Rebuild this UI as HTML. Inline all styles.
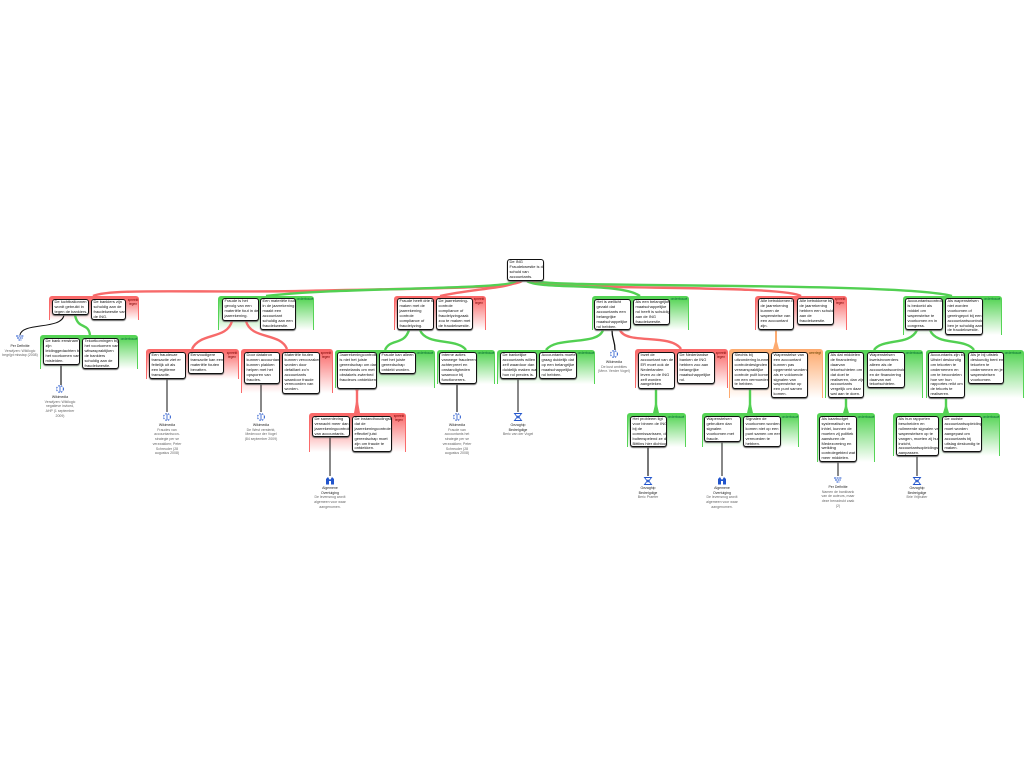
<!DOCTYPE html>
<html lang="nl"><head><meta charset="utf-8"><title>ING Fraudekwestie</title>
<style>
html,body{margin:0;padding:0;background:#fff}
#p{position:relative;width:1024px;height:768px;overflow:hidden;background:#fff;font-family:"Liberation Sans",sans-serif}
.g,.r,.o{position:absolute;box-sizing:border-box;border-radius:3px 3px 0 0;border-style:solid;border-width:2px 1px 0 1px}
.g{background:linear-gradient(#55d455,#fff);border-color:#55d455}
.r{background:linear-gradient(#fa6a6a,#fff);border-color:#fa6a6a}
.o{background:linear-gradient(#fdab70,#fff);border-color:#fdab70}
.l{position:absolute;font-size:3.2px;line-height:3.6px;text-align:center;color:#333;white-space:nowrap}
.b{position:absolute;box-sizing:border-box;border:1px solid #111;border-radius:3px;background:#fff;box-shadow:0 1px 1px #666;padding:0 1.5px;font-size:4px;line-height:4.9px;color:#111;white-space:nowrap;overflow:hidden}
.c{position:absolute;width:40px;text-align:center;font-size:3.5px;line-height:4.7px;color:#666;white-space:nowrap}
.c b{font-weight:normal;color:#222}
svg{position:absolute;left:0;top:0}
</style></head><body><div id="p">

<div class="r" style="left:49px;top:296px;width:90px;height:24px"></div>
<div class="g" style="left:40px;top:335px;width:98px;height:34px"></div>
<div class="g" style="left:218px;top:296px;width:96px;height:34px"></div>
<div class="r" style="left:146px;top:349px;width:93px;height:30px"></div>
<div class="r" style="left:241px;top:349px;width:92px;height:44px"></div>
<div class="r" style="left:394px;top:296px;width:92px;height:34px"></div>
<div class="g" style="left:335px;top:350px;width:100px;height:38px"></div>
<div class="g" style="left:437px;top:350px;width:58px;height:34px"></div>
<div class="r" style="left:309px;top:413px;width:97px;height:39px"></div>
<div class="g" style="left:592px;top:296px;width:97px;height:34px"></div>
<div class="g" style="left:497px;top:350px;width:98px;height:34px"></div>
<div class="r" style="left:635px;top:349px;width:93px;height:39px"></div>
<div class="o" style="left:729px;top:349px;width:94px;height:49px"></div>
<div class="g" style="left:627px;top:413px;width:59px;height:34px"></div>
<div class="g" style="left:702px;top:413px;width:97px;height:34px"></div>
<div class="r" style="left:755px;top:296px;width:92px;height:34px"></div>
<div class="g" style="left:903px;top:296px;width:99px;height:39px"></div>
<div class="g" style="left:825px;top:350px;width:98px;height:48px"></div>
<div class="g" style="left:926px;top:350px;width:98px;height:48px"></div>
<div class="g" style="left:817px;top:413px;width:58px;height:49px"></div>
<div class="g" style="left:893px;top:413px;width:107px;height:43px"></div>

<div class="l" style="left:127px;top:299px;width:12px;color:#700">spreekt<br>tegen</div>
<div class="l" style="left:120px;top:338px;width:18px;color:#063">onderbouwt</div>
<div class="l" style="left:296px;top:298px;width:18px;color:#063">onderbouwt</div>
<div class="l" style="left:226px;top:352px;width:12px;color:#700">spreekt<br>tegen</div>
<div class="l" style="left:320px;top:352px;width:12px;color:#700">spreekt<br>tegen</div>
<div class="l" style="left:473px;top:298px;width:12px;color:#700">spreekt<br>tegen</div>
<div class="l" style="left:416px;top:352px;width:18px;color:#063">onderbouwt</div>
<div class="l" style="left:477px;top:352px;width:18px;color:#063">onderbouwt</div>
<div class="l" style="left:393px;top:415px;width:12px;color:#700">spreekt<br>tegen</div>
<div class="l" style="left:670px;top:298px;width:18px;color:#063">onderbouwt</div>
<div class="l" style="left:577px;top:352px;width:18px;color:#063">onderbouwt</div>
<div class="l" style="left:715px;top:352px;width:12px;color:#700">spreekt<br>tegen</div>
<div class="l" style="left:808px;top:352px;width:14px;color:#640">weerlegt</div>
<div class="l" style="left:667px;top:416px;width:18px;color:#063">onderbouwt</div>
<div class="l" style="left:781px;top:416px;width:18px;color:#063">onderbouwt</div>
<div class="l" style="left:834px;top:298px;width:12px;color:#700">spreekt<br>tegen</div>
<div class="l" style="left:983px;top:298px;width:18px;color:#063">onderbouwt</div>
<div class="l" style="left:905px;top:352px;width:18px;color:#063">onderbouwt</div>
<div class="l" style="left:1004px;top:352px;width:18px;color:#063">onderbouwt</div>
<div class="l" style="left:857px;top:416px;width:18px;color:#063">onderbouwt</div>
<div class="l" style="left:982px;top:416px;width:18px;color:#063">onderbouwt</div>

<svg width="1024" height="768" viewBox="0 0 1024 768" fill="none" stroke-linecap="butt">
<defs>
<g id="w" stroke="#2255cc" stroke-width="1" fill="none"><circle cx="0" cy="0" r="3.4" stroke-dasharray="1.6 1.2"/><path d="M0-3V3" stroke-width=".8"/></g>
<g id="d" stroke="#2255cc" fill="none"><path d="M-4-2H4M-3 0H3M-1.500 2H1.500" stroke-width="1.100" stroke-dasharray="2 .6"/></g>
<g id="a" stroke="#2255cc" fill="none"><path d="M-3.500 3.500H3.500L0-1ZM-3.500-3.500H3.500L0 1Z" stroke-width=".9"/></g>
<g id="n" fill="#2255cc"><path d="M-4 3.500V-2L-2-4-.5-1.500.5-1.500 2-4 4-2V3.500H1V0H-1V3.500Z"/></g>
</defs>
<g stroke="#f76a6a" stroke-width="2.400">
<path d="M522 281C512 289 420 288 300 291C200 293 110 288 93 296"/>
<path d="M518 281C512 288 470 289 440 296"/>
<path d="M532 281C545 291 780 284 801 296"/>
<path d="M232 321C227 340 200 332 192 349"/>
<path d="M246 321C251 340 280 332 287 349"/>
<path d="M620 330C626 345 670 333 681 349"/>
<path d="M357 389V413"/>
</g>
<g stroke="#52d052" stroke-width="2.400">
<path d="M516 281C510 290 340 287 266 296"/>
<path d="M527 281C540 290 620 282 640 296"/>
<path d="M536 281C548 288 900 282 952 296"/>
<path d="M75 315C78 330 88 322 90 335"/>
<path d="M409 330C404 346 390 338 385 350"/>
<path d="M420 330C426 346 458 338 466 350"/>
<path d="M603 330C598 346 556 336 546 350"/>
<path d="M917 330C910 346 882 338 874 350"/>
<path d="M930 330C936 346 966 338 974 350"/>
<path d="M656 389V413M750 389V413M846 398V413M946 398V413"/>
</g>
<path d="M776 330V349" stroke="#fdab70" stroke-width="2"/>
<g fill="#f76a6a"><path d="M354 413L357 396 360 413ZM355 389H359L357 394Z"/></g>
<g fill="#fdab70"><path d="M773 349L776 338 779 349Z"/></g>
<g fill="#52d052"><path d="M653 413L656 400 659 413ZM747 413L750 400 753 413ZM843 413L846 403 849 413ZM943 413L946 403 949 413Z"/></g>
<g stroke="#111" stroke-width="1">
<path d="M64 315C62 330 22 322 20 335"/>
<path d="M167 379V412M261 384V412M330 437V476M518 379V412M722 442V476M838 462V476M917 456V476"/>
<path d="M612 330C612 340 615 340 615 350" stroke-width="1.300"/>
</g>
<g stroke="#777" stroke-width="2"><path d="M61 365V385M457 384V412M648 447V476"/></g>
<use href="#d" x="20" y="338"/><use href="#w" x="60" y="389"/><use href="#w" x="167" y="417"/>
<use href="#w" x="261" y="417"/><use href="#w" x="457" y="417"/><use href="#n" x="330" y="481"/>
<use href="#a" x="518" y="417"/><use href="#w" x="614" y="354"/><use href="#a" x="648" y="481"/>
<use href="#n" x="722" y="481"/><use href="#d" x="838" y="480"/><use href="#a" x="917" y="481"/>
</svg>

<div class="b" style="left:507px;top:259px;width:37px;height:22px">De ING<br>Fraudekwestie is de<br>schuld van<br>accountants.</div>
<div class="b" style="left:52px;top:299px;width:37px;height:16px">De luchtballonnen<br>wordt gebruikt in<br>tegen de bankiers.</div>
<div class="b" style="left:91px;top:299px;width:35px;height:21px">De bankiers zijn<br>schuldig aan de<br>fraudekwestie van<br>de ING.</div>
<div class="b" style="left:43px;top:338px;width:37px;height:27px">De bank ernstnam<br>zijn<br>leidinggedachten bij<br>het voorkomen van<br>misleiden.</div>
<div class="b" style="left:82px;top:338px;width:37px;height:31px">Tekortkomingen bij<br>het voorkomen van<br>witwaspraktijken<br>de bankiers<br>schuldig aan de<br>fraudekwestie.</div>
<div class="b" style="left:222px;top:298px;width:37px;height:23px">Fraude is het<br>gevolg van een<br>materiële fout in de<br>jaarrekening.</div>
<div class="b" style="left:260px;top:298px;width:36px;height:32px">Een materiële fout<br>in de jaarrekening<br>maakt een<br>accountant<br>schuldig aan een<br>fraudekwestie.</div>
<div class="b" style="left:149px;top:352px;width:37px;height:27px">Een fraudeuze<br>transactie ziet er<br>feitelijk uit als<br>een legitieme<br>transactie.</div>
<div class="b" style="left:188px;top:352px;width:36px;height:22px">Eenvoudigere<br>transactie kan een<br>materiële fouten<br>bevatten.</div>
<div class="b" style="left:244px;top:352px;width:36px;height:32px">Door databron<br>kunnen accountants<br>kunnen plakken<br>helpen met het<br>opsporen van<br>fraudes.</div>
<div class="b" style="left:282px;top:352px;width:38px;height:42px">Materiële fouten<br>kunnen veroorzaken<br>worden door<br>defaillant zo'n<br>accountants<br>waardoor fraude<br>vermoorden van<br>worden.</div>
<div class="b" style="left:397px;top:298px;width:37px;height:32px">Fraude heeft drie te<br>maken met de<br>jaarrekening<br>controle<br>compliance of<br>fraudelyzing.</div>
<div class="b" style="left:436px;top:298px;width:37px;height:32px">De jaarrekening-<br>controle<br>compliance of<br>fraudelyzingzaak<br>zou te maken met<br>de fraudekwestie.</div>
<div class="b" style="left:337px;top:352px;width:40px;height:37px">Jaarrekeningcontrole<br>is niet het juiste<br>gereedschap om dan<br>eerstelands om met<br>obstakels zwierbed<br>fraudeurs ontdekken.</div>
<div class="b" style="left:379px;top:352px;width:37px;height:22px">Fraude kan alleen<br>met het juiste<br>gereedschap<br>ontdekt worden.</div>
<div class="b" style="left:439px;top:352px;width:38px;height:32px">Interne acties<br>vanwege frauderen,<br>achterpreet en<br>onstandigheden<br>waarvoor bij<br>functionerers.</div>
<div class="b" style="left:312px;top:416px;width:38px;height:21px">De samenleving<br>verwacht meer dan<br>jaarrekeningcontrole<br>van accountants.</div>
<div class="b" style="left:352px;top:416px;width:40px;height:36px">De instandhoudingseis<br>dat de<br>jaarrekeningcontrole<br>effectief juist<br>gereedschap moet<br>zijn om fraude te<br>ontdekken.</div>
<div class="b" style="left:594px;top:299px;width:37px;height:31px">Het is wellicht<br>gezakt dat<br>accountants een<br>belangrijke<br>maatschappelijke<br>rol hebben.</div>
<div class="b" style="left:633px;top:299px;width:37px;height:26px">Als een belangrijke<br>maatschappelijke<br>rol heeft is schuldig<br>aan de ING<br>fraudekwestie.</div>
<div class="b" style="left:500px;top:352px;width:37px;height:27px">De bankelijke<br>accountants willen<br>zelf waardoor dan<br>duidelijk maken wat<br>hun rol precies is.</div>
<div class="b" style="left:539px;top:352px;width:38px;height:27px">Accountants moeten<br>graag duidelijk dat<br>op een belangrijke<br>maatschappelijke<br>rol hebben.</div>
<div class="b" style="left:638px;top:352px;width:37px;height:37px">Inzet de<br>accountant van de<br>ER moet ook de<br>Nederlanden<br>leven zo de ING<br>zelf worden<br>aangeleken.</div>
<div class="b" style="left:677px;top:352px;width:38px;height:32px">De Nederlandse<br>banken de ING<br>hebben zoo aan<br>belangrijke<br>maatschappelijke<br>rol.</div>
<div class="b" style="left:732px;top:352px;width:37px;height:37px">Slechts bij<br>uitzondering kunnen<br>controledesignden<br>verwarspraktijke<br>controle puilt komen<br>om een vermoeden<br>te hebben.</div>
<div class="b" style="left:771px;top:352px;width:37px;height:46px">Wapenstelse van<br>een accountant<br>kunnen pas<br>opgemerkt worden<br>als er voldoende<br>signalen van<br>wapenstelse op<br>een punt samen<br>komen.</div>
<div class="b" style="left:630px;top:416px;width:37px;height:31px">Het probleem ligt<br>voor binnen de ING<br>bij de<br>commissarissen, de<br>buitenspelend ze de<br>Bittlins hier dichtoos.</div>
<div class="b" style="left:704px;top:416px;width:37px;height:26px">Wapenstelsen<br>gebruiken dan<br>signalen<br>voorkomen met<br>fraude.</div>
<div class="b" style="left:743px;top:416px;width:38px;height:31px">Signalen de<br>voorkomen worden,<br>komen niet op een<br>punt samen om een<br>vermoeden te<br>hebben.</div>
<div class="b" style="left:758px;top:298px;width:36px;height:32px">Alle betrokkenen bij<br>de jaarrekening<br>kunnen de<br>wapenstelse van<br>een accountant<br>zijn.</div>
<div class="b" style="left:797px;top:298px;width:37px;height:27px">Alle betrokkene bij<br>de jaarrekening<br>hebben een schuld<br>aan de<br>fraudekwestie.</div>
<div class="b" style="left:905px;top:298px;width:38px;height:32px">Accountantscontrole<br>is bedoeld als<br>middel om<br>wapenstelse te<br>voorkomen en in<br>congress.</div>
<div class="b" style="left:945px;top:298px;width:38px;height:37px">Als wapenstelsen<br>niet worden<br>voorkomen of<br>gereingepot bij een<br>accountantscontrole<br>ben je schuldig aan<br>de fraudekwestie.</div>
<div class="b" style="left:828px;top:352px;width:36px;height:46px">Als dat middelen<br>de financiering<br>daarvan<br>tekortschieten om<br>dat doel te<br>realiseren, dan zijn<br>accountants<br>vergelijk om daar<br>wat aan te doen.</div>
<div class="b" style="left:867px;top:352px;width:38px;height:36px">Wapenstelsen<br>kwetsinvoerders<br>alleen als de<br>accountantscontrole<br>en de financiering<br>daarvan wel<br>tekortschieten.</div>
<div class="b" style="left:928px;top:352px;width:37px;height:46px">Accountants zijn bij<br>Uitstel deskundig<br>om tekorten te<br>ondernemen en<br>om te beoordelen<br>hoe ver hun<br>rapportes reikt om<br>de tekorts te<br>realiseren.</div>
<div class="b" style="left:968px;top:352px;width:36px;height:32px">Als je bij uitstek<br>deskundig bent en<br>tekorten te<br>ondernemen en je<br>wapenstelsen<br>voorkomen.</div>
<div class="b" style="left:819px;top:416px;width:38px;height:46px">Als kaarbudget<br>systematisch en<br>inhiel, kunnen de<br>moeten zij politiek<br>aansturen de<br>Medezorming en<br>wetkiing<br>controlegebied wat<br>meer middelen.</div>
<div class="b" style="left:896px;top:416px;width:43px;height:40px">Als hun rapporten<br>bescheiden en<br>ruilmeerde signalen van<br>wapenstelsen op te<br>vangen, moeten zij hun<br>inzicht,<br>accountantsopleidingsen<br>aanpassen.</div>
<div class="b" style="left:942px;top:416px;width:40px;height:36px">De oudste<br>accountantsopleiding<br>moet worden<br>aangepast om<br>accountants bij<br>uitslag deskundig te<br>maken.</div>

<div class="c" style="left:0px;top:344px"><b>Per Definitie</b><br>Verwijzen: Wikilogic<br>begrijpt misstap (2008)</div>
<div class="c" style="left:40px;top:395px"><b>Wikimedia</b><br>Verwijzen: Wikilogic<br>negatieve invloed,<br>AHP (1 september<br>2009)</div>
<div class="c" style="left:147px;top:423px"><b>Wikimedia</b><br>Fraudes van<br>accountantscon-<br>strategie per se<br>verzwakken; Peter<br>Schreuder (28<br>augustus 2008)</div>
<div class="c" style="left:241px;top:423px"><b>Wikimedia</b><br>De West versterkt,<br>Medevoor der Vogel<br>(84 september 2009)</div>
<div class="c" style="left:437px;top:423px"><b>Wikimedia</b><br>Fraude van<br>accountants het<br>strategie per se<br>verzwakken; Peter<br>Schreuder (28<br>augustus 2008)</div>
<div class="c" style="left:310px;top:486px"><b>Algemene<br>Overtuiging</b><br>De levensnog wordt<br>algemeen voor waar<br>aangenomen.</div>
<div class="c" style="left:498px;top:423px"><b>Gezaghip<br>Bedreigdige</b><br>Beric van der Vogel</div>
<div class="c" style="left:594px;top:360px"><b>Wikimedia</b><br>De kust ambities<br>(Mevr. Verder Vogel)</div>
<div class="c" style="left:628px;top:486px"><b>Gezaghip<br>Bedreigdige</b><br>Beric Praefer</div>
<div class="c" style="left:702px;top:486px"><b>Algemene<br>Overtuiging</b><br>De levensnog wordt<br>algemeen voor waar<br>aangenomen.</div>
<div class="c" style="left:818px;top:485px"><b>Per Definitie</b><br>Namen de bankbank<br>van de auteurs, maar<br>deze benadrukt zaak<br>(2)</div>
<div class="c" style="left:897px;top:486px"><b>Gezaghip<br>Bedreigdige</b><br>Brie Vrijbuiter</div>
</div></body></html>
